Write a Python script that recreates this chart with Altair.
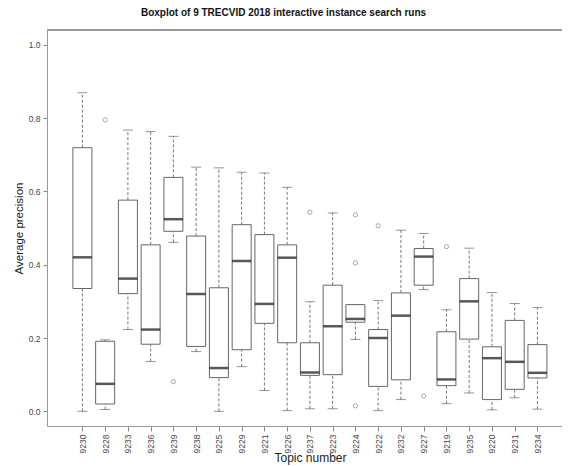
import altair as alt
import pandas as pd

topics = ["9230", "9228", "9233", "9236", "9239", "9238", "9225", "9229", "9221", "9226", "9237",
          "9223", "9224", "9222", "9232", "9227", "9219", "9235", "9220", "9231", "9234"]
whisker_low = [0.000, 0.005, 0.223, 0.136, 0.461, 0.163, 0.000, 0.122, 0.057, 0.002, 0.007,
               0.007, 0.196, 0.002, 0.032, 0.332, 0.021, 0.050, 0.004, 0.037, 0.006]
q1 = [0.335, 0.020, 0.321, 0.183, 0.491, 0.177, 0.092, 0.168, 0.240, 0.187, 0.098,
      0.100, 0.243, 0.068, 0.086, 0.344, 0.070, 0.197, 0.032, 0.060, 0.091]
median = [0.420, 0.075, 0.362, 0.223, 0.524, 0.320, 0.118, 0.410, 0.293, 0.419, 0.106,
          0.232, 0.252, 0.200, 0.261, 0.422, 0.087, 0.300, 0.145, 0.135, 0.105]
q3 = [0.719, 0.191, 0.576, 0.454, 0.638, 0.478, 0.337, 0.509, 0.482, 0.454, 0.187,
      0.344, 0.291, 0.223, 0.323, 0.444, 0.217, 0.362, 0.176, 0.248, 0.182]
whisker_high = [0.869, 0.195, 0.767, 0.763, 0.750, 0.666, 0.664, 0.652, 0.650, 0.611, 0.299,
                0.541, 0.291, 0.302, 0.494, 0.485, 0.277, 0.445, 0.324, 0.294, 0.283]
outlier_topics = ["9228", "9239", "9237", "9224", "9224", "9224", "9222", "9227", "9219"]
outlier_values = [0.795, 0.081, 0.543, 0.536, 0.405, 0.015, 0.506, 0.042, 0.449]

idx = list(range(1, len(topics) + 1))
df = pd.DataFrame({"idx": idx, "topic": topics, "wlo": whisker_low, "q1": q1,
                   "med": median, "q3": q3, "whi": whisker_high})
odf = pd.DataFrame({"idx": [topics.index(t) + 1 for t in outlier_topics], "val": outlier_values})

W, H = 515, 396
label_arr = "[" + ",".join("'%s'" % t for t in topics) + "]"
FONT = "Liberation Sans"

xscale = alt.Scale(domain=[-0.336, 21.86], zero=False, nice=False)
yscale = alt.Scale(domain=[-0.04, 1.04], zero=False, nice=False)

xaxis = alt.Axis(values=idx, labelExpr=label_arr + "[datum.value-1]", labelAngle=270,
                 labelOverlap=False, labelBound=False, labelFlush=False,
                 title="Topic number", titleFontSize=12, titleFontWeight="normal",
                 titleColor="#222", titleX=263, titleY=31, titleBaseline="middle",
                 labelFontSize=8.5, labelColor="#444", labelPadding=3, tickSize=5,
                 tickColor="#888", domainColor="#999", grid=False, labelFont=FONT, titleFont=FONT)
yaxis = alt.Axis(values=[0, 0.2, 0.4, 0.6, 0.8, 1.0], format=".1f", title="Average precision",
                 titleFontSize=11.5, titleFontWeight="normal", titleColor="#222", titlePadding=4,
                 labelFontSize=8.5, labelColor="#444", labelPadding=3, tickSize=4,
                 tickColor="#888", domainColor="#999", grid=False, labelFont=FONT, titleFont=FONT)

base = alt.Chart(df)
xe = alt.X("idx:Q", scale=xscale, axis=xaxis)


def ye(field):
    return alt.Y(field, scale=yscale, axis=yaxis)


lower = base.mark_rule(color="#777", strokeDash=[3, 2], strokeWidth=1).encode(
    x=xe, y=ye("wlo:Q"), y2="q1:Q")
upper = base.mark_rule(color="#777", strokeDash=[3, 2], strokeWidth=1).encode(
    x=xe, y=ye("q3:Q"), y2="whi:Q")
cap_lo = base.mark_tick(orient="horizontal", size=10, thickness=1, color="#666").encode(
    x=xe, y=ye("wlo:Q"))
cap_hi = base.mark_tick(orient="horizontal", size=10, thickness=1, color="#666").encode(
    x=xe, y=ye("whi:Q"))
box = base.mark_bar(size=19, fill="white", stroke="#666", strokeWidth=1).encode(
    x=xe, y=ye("q1:Q"), y2="q3:Q")
med = base.mark_tick(orient="horizontal", size=19, thickness=2.5, color="#111").encode(
    x=xe, y=ye("med:Q"))
outl = alt.Chart(odf).mark_point(shape="circle", filled=False, size=18, color="#666",
                                 strokeWidth=0.8).encode(
    x=xe, y=ye("val:Q"))
top = alt.Chart(df).mark_rule(color="#999", strokeWidth=1).encode(
    x=alt.value(0), x2=alt.value(W), y=alt.value(0))

chart = alt.layer(lower, upper, cap_lo, cap_hi, box, med, outl, top).properties(
    width=W, height=H, autosize="none",
    padding={"left": 39, "top": 22, "right": 0, "bottom": 42},
    title=alt.TitleParams("Boxplot of 9 TRECVID 2018 interactive instance search runs",
                          font=FONT, fontSize=10, fontWeight="bold", color="#111",
                          anchor="middle", frame="group", dx=-21, offset=12)
).configure_view(stroke=None).configure_axisX(labelOverlap=False).configure(background="white")

chart.save("out.html", embed_options={"renderer": "svg", "actions": False})
